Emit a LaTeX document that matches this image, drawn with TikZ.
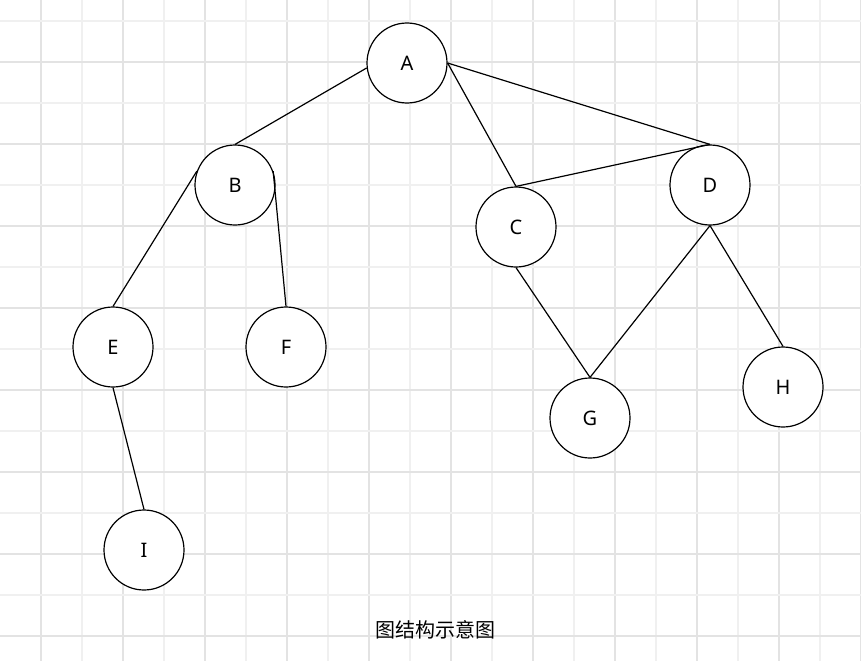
\documentclass[tikz,border=0pt]{standalone}
\usepackage{fontspec}
\setmainfont{Noto Sans}
\newfontfamily\cjk{Noto Sans CJK SC}
\begin{document}
\begin{tikzpicture}[x=1pt,y=-1pt,
  vx/.style={circle,draw,line width=1.2pt,minimum size=80pt,inner sep=0pt,fill=white,font=\fontsize{20}{24}\selectfont},
  ed/.style={line width=1.2pt}]
\useasboundingbox (0,0) rectangle (861,661);
\fill[white] (0,0) rectangle (861,661);
\foreach \i in {1,...,21} {
  \pgfmathsetmacro\c{mod(\i,2)==1 ? 22 : 12}
  \draw[gray!\c, line width=1.2pt] (41*\i,0) -- (41*\i,661);}
\foreach \i in {0,...,15} {
  \pgfmathsetmacro\c{mod(\i,2)==1 ? 22 : 12}
  \draw[gray!\c, line width=1.2pt] (0,21+41*\i) -- (861,21+41*\i);}
\node[vx] (A) at (407,63) {A};
\node[vx] (B) at (235,185) {B};
\node[vx] (C) at (516,227) {C};
\node[vx] (D) at (710,185) {D};
\node[vx] (E) at (113,347) {E};
\node[vx] (F) at (286,347) {F};
\node[vx] (G) at (590,418) {G};
\node[vx] (H) at (783,387) {H};
\node[vx] (I) at (144,550) {I};
\draw[ed] (A.187) -- (B.north);
\draw[ed] (A.east) -- (C.north);
\draw[ed] (A.east) -- (D.north);
\draw[ed] (C.north) -- (D.north);
\draw[ed] (B.160) -- (E.north);
\draw[ed] (B.20) -- (F.north);
\draw[ed] (E.south) -- (I.north);
\draw[ed] (C.south) -- (G.north);
\draw[ed] (D.south) -- (G.north);
\draw[ed] (D.south) -- (H.north);
\node[font=\cjk\fontsize{20}{24}\selectfont] (cap) at (435,630) {图结构示意图};
\end{tikzpicture}
\end{document}
